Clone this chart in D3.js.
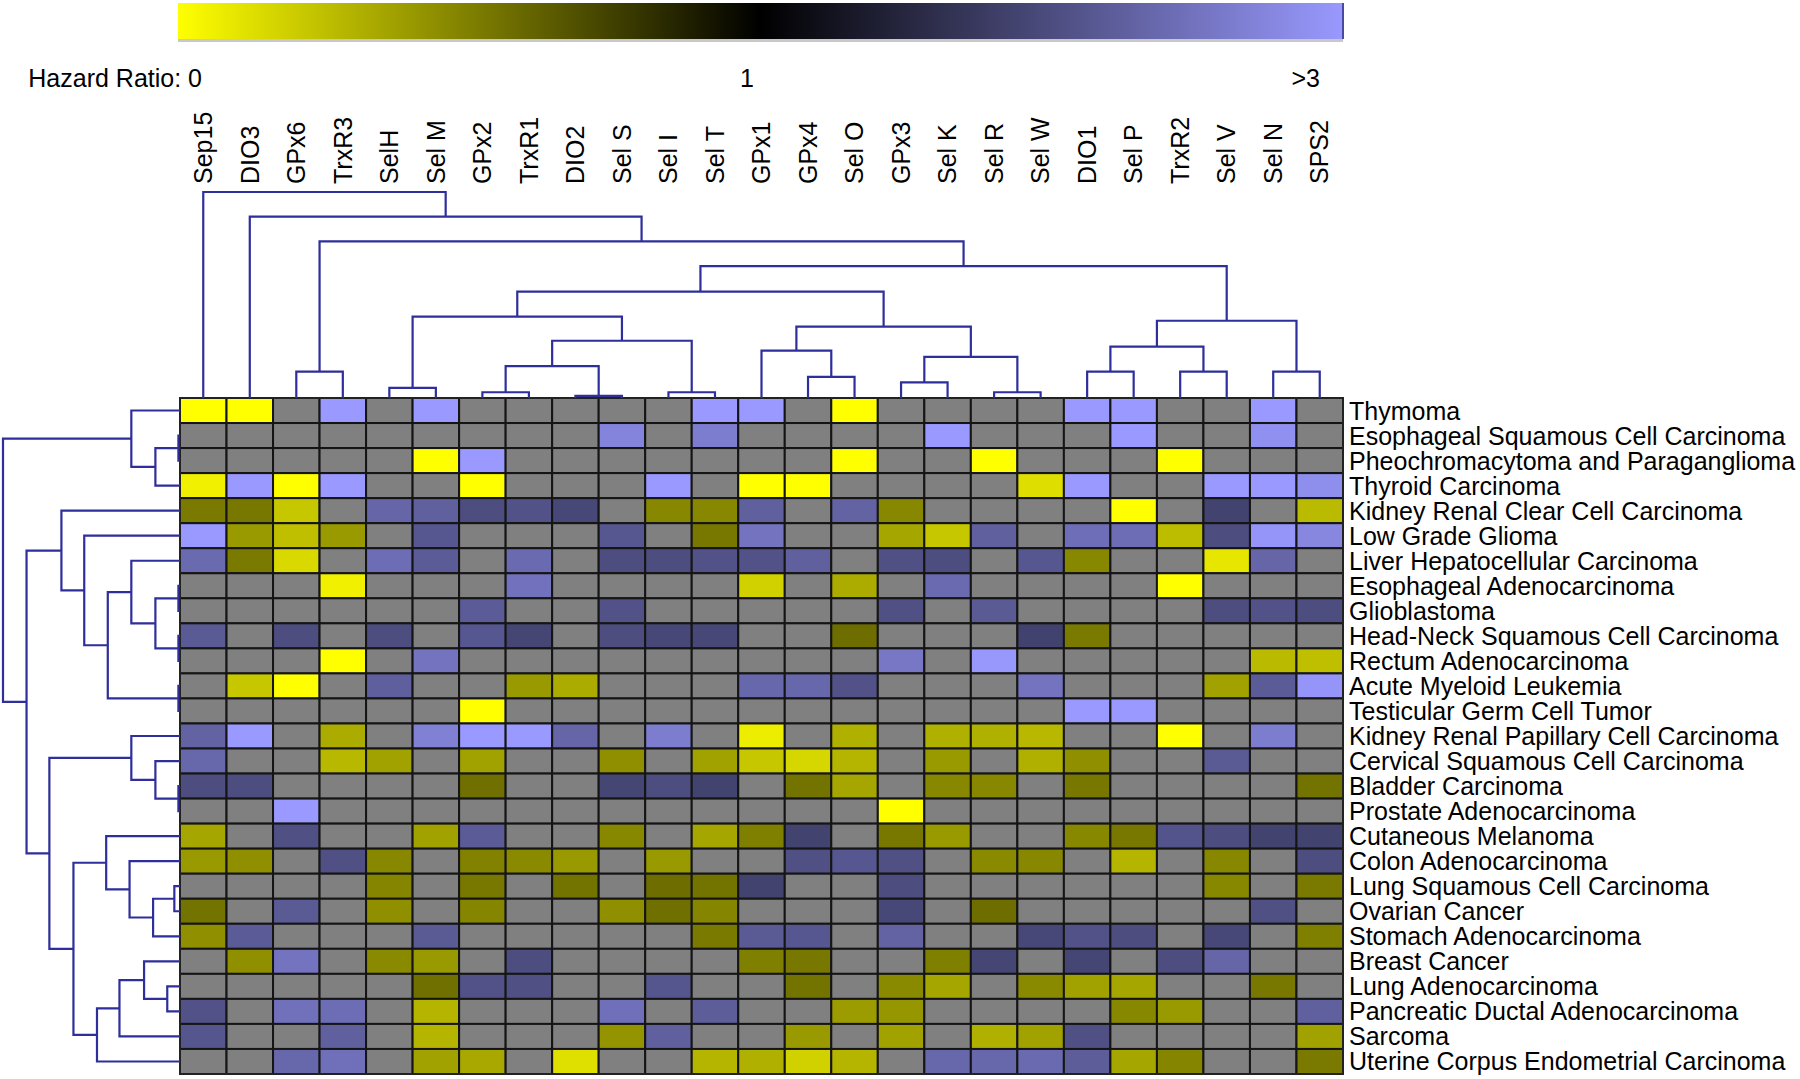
<!DOCTYPE html>
<html>
<head>
<meta charset="utf-8">
<script src="https://cdn.jsdelivr.net/npm/d3@7"></script>
<style>
  body { margin: 0; background: #fff; }
  text { font-family: "Liberation Sans", Arial, sans-serif; fill: #000; }
</style>
</head>
<body>
<svg id="chart"></svg>
<script>
let width = 1800;
let height = 1079;

let genes = ['Sep15', 'DIO3', 'GPx6', 'TrxR3', 'SelH', 'Sel M', 'GPx2', 'TrxR1', 'DIO2',
  'Sel S', 'Sel I', 'Sel T', 'GPx1', 'GPx4', 'Sel O', 'GPx3', 'Sel K', 'Sel R', 'Sel W',
  'DIO1', 'Sel P', 'TrxR2', 'Sel V', 'Sel N', 'SPS2'];

let cancers = ['Thymoma', 'Esophageal Squamous Cell Carcinoma', 'Pheochromacytoma and Paraganglioma',
  'Thyroid Carcinoma', 'Kidney Renal Clear Cell Carcinoma', 'Low Grade Glioma',
  'Liver Hepatocellular Carcinoma', 'Esophageal Adenocarcinoma', 'Glioblastoma',
  'Head-Neck Squamous Cell Carcinoma', 'Rectum Adenocarcinoma', 'Acute Myeloid Leukemia',
  'Testicular Germ Cell Tumor', 'Kidney Renal Papillary Cell Carcinoma',
  'Cervical Squamous Cell Carcinoma', 'Bladder Carcinoma', 'Prostate Adenocarcinoma',
  'Cutaneous Melanoma', 'Colon Adenocarcinoma', 'Lung Squamous Cell Carcinoma',
  'Ovarian Cancer', 'Stomach Adenocarcinoma', 'Breast Cancer', 'Lung Adenocarcinoma',
  'Pancreatic Ductal Adenocarcinoma', 'Sarcoma', 'Uterine Corpus Endometrial Carcinoma'];

// hazard ratio per cancer (row) and gene (column); null = not significant (grey)
const _ = null;
let hazard = [
  [0, 0, _, 3, _, 3, _, _, _, _, _, 3, 3, _, 0, _, _, _, _, 3, 3, _, _, 3, _],
  [_, _, _, _, _, _, _, _, _, 2.73, _, 2.63, _, _, _, _, 3, _, _, _, 3, _, _, 2.88, _],
  [_, _, _, _, _, 0, 3, _, _, _, _, _, _, _, 0, _, _, 0, _, _, _, 0, _, _, _],
  [0.06, 3, 0, 3, _, _, 0, _, _, _, 3, _, 0, 0, _, _, _, _, 0.13, 3, _, _, 3, 3, 2.85],
  [0.52, 0.53, 0.22, _, 2.32, 2.25, 2.0, 2.07, 1.94, _, 0.47, 0.47, 2.25, _, 2.29, 0.47, _, _, _, _, 0, _, 1.88, _, 0.27],
  [3, 0.4, 0.25, 0.4, _, 2.13, _, _, _, 2.13, _, 0.53, 2.5, _, _, 0.35, 0.22, 2.25, _, 2.44, 2.42, 0.26, 2.0, 2.95, 2.76],
  [2.38, 0.52, 0.15, _, 2.42, 2.19, _, 2.38, _, 2.0, 2.0, 2.07, 2.07, 2.25, _, 2.04, 2.0, _, 2.13, 0.47, _, _, 0.1, 2.32, _],
  [_, _, _, 0.06, _, _, _, 2.48, _, _, _, _, 0.18, _, 0.33, _, 2.38, _, _, _, _, 0, _, _, _],
  [_, _, _, _, _, _, 2.19, _, _, 2.07, _, _, _, _, _, 2.04, _, 2.17, _, _, _, _, 2.0, 2.07, 2.0],
  [2.17, _, 2.0, _, 2.0, _, 2.13, 1.92, _, 2.0, 1.94, 1.94, _, _, 0.57, _, _, _, 1.86, 0.52, _, _, _, _, _],
  [_, _, _, 0, _, 2.5, _, _, _, _, _, _, _, _, _, 2.55, _, 2.98, _, _, _, _, _, 0.27, 0.25],
  [_, 0.22, 0, _, 2.24, _, _, 0.4, 0.33, _, _, _, 2.35, 2.35, 2.07, _, _, _, 2.5, _, _, _, 0.37, 2.19, 2.95],
  [_, _, _, _, _, _, 0, _, _, _, _, _, _, _, _, _, _, _, _, 3, 3, _, _, _, _],
  [2.29, 3, _, 0.33, _, 2.67, 3, 3, 2.32, _, 2.63, _, 0.07, _, 0.31, _, 0.31, 0.31, 0.28, _, _, 0, _, 2.63, _],
  [2.35, _, _, 0.28, 0.37, _, 0.37, _, _, 0.44, _, 0.37, 0.22, 0.16, 0.29, _, 0.4, _, 0.31, 0.44, _, _, 2.17, _, _],
  [2.0, 2.0, _, _, _, _, 0.56, _, _, 1.92, 2.0, 1.88, _, 0.55, 0.35, _, 0.47, 0.47, _, 0.53, _, _, _, _, 0.55],
  [_, _, 3, _, _, _, _, _, _, _, _, _, _, _, _, 0, _, _, _, _, _, _, _, _, _],
  [0.35, _, 2.04, _, _, 0.37, 2.19, _, _, 0.47, _, 0.35, 0.5, 1.88, _, 0.53, 0.4, _, _, 0.47, 0.53, 2.1, 2.0, 1.88, 1.88],
  [0.4, 0.44, _, 2.04, 0.47, _, 0.49, 0.46, 0.4, _, 0.4, _, _, 2.04, 2.13, 2.04, _, 0.46, 0.47, _, 0.29, _, 0.47, _, 2.0],
  [_, _, _, _, 0.48, _, 0.53, _, 0.55, _, 0.57, 0.55, 1.88, _, _, 2.0, _, _, _, _, _, _, 0.47, _, 0.52],
  [0.55, _, 2.17, _, 0.44, _, 0.48, _, _, 0.44, 0.56, 0.48, _, _, _, 1.94, _, 0.57, _, _, _, _, _, 2.04, _],
  [0.44, 2.19, _, _, _, 2.17, _, _, _, _, _, 0.52, 2.17, 2.13, _, 2.29, _, _, 1.94, 2.07, 2.0, _, 1.94, _, 0.5],
  [_, 0.44, 2.5, _, 0.46, 0.4, _, 2.0, _, _, _, _, 0.5, 0.53, _, _, 0.5, 1.92, _, 1.92, _, 2.0, 2.32, _, _],
  [_, _, _, _, _, 0.56, 2.07, 2.04, _, _, 2.12, _, _, 0.55, _, 0.46, 0.35, _, 0.46, 0.37, 0.35, _, _, 0.53, _],
  [2.07, _, 2.47, 2.42, _, 0.29, _, _, _, 2.46, _, 2.21, _, _, 0.39, 0.41, _, _, _, _, 0.47, 0.4, _, _, 2.25],
  [2.12, _, _, 2.25, _, 0.29, _, _, _, 0.42, 2.25, _, _, 0.4, _, 0.37, _, 0.31, 0.37, 2.04, _, _, _, _, 0.37],
  [_, _, 2.35, 2.46, _, 0.37, 0.34, _, 0.12, _, _, 0.29, 0.31, 0.18, 0.29, _, 2.35, 2.35, 2.38, 2.21, 0.35, 0.48, _, _, 0.52]
];

// clustering trees: [merge distance, left, right], leaves are indices
let geneTree = [1.0, 0, [0.88, 1, [0.76, [0.128, 2, 3],
  [0.64,
    [0.516,
      [0.395, [0.049, 4, 5], [0.278, [0.155, [0.028, 6, 7], [0.01, 8, 9]], [0.028, 10, 11]]],
      [0.346, [0.23, 12, [0.103, 13, 14]], [0.2, [0.076, 15, 16], [0.028, 17, 18]]]],
    [0.375, [0.249, [0.128, 19, 20], [0.128, 21, 22]], [0.128, 23, 24]]]]]];

let cancerTree = [1.0,
  [0.275, 0, [0.139, [0.009, 1, 2], 3]],
  [0.867,
    [0.67, 4, [0.541, 5, [0.408, [0.275, 6, [0.139, [0.009, 7, 8], [0.009, 9, 10]]], [0.009, 11, 12]]]],
    [0.738,
      [0.275, 13, [0.139, 14, [0.009, 15, 16]]],
      [0.602,
        [0.417, 17, [0.285, 18, [0.152, [0.032, 19, 20], 21]]],
        [0.469, [0.342, [0.203, 22, [0.072, 23, 24]], 25], 26]]]]];

let legendLabels = ['Hazard Ratio: 0', '1', '>3'];
let legendValues = [0, 1, 3];

let gridLeft = 180, gridRight = 1343, gridTop = 398, gridBottom = 1074;
let treeColor = '#2e2e9c';

let svg = d3.select('#chart')
  .attr('width', width)
  .attr('height', height);

svg.append('rect').attr('width', width).attr('height', height).attr('fill', '#fff');

let xScale = d3.scaleBand().domain(genes).range([gridLeft, gridRight]);
let yScale = d3.scaleBand().domain(cancers).range([gridTop, gridBottom]);

let colorScale = d3
  .scaleLinear()
  .domain([0, 1, 3])
  .range(['#ffff00', '#000000', '#9999ff'])
  .clamp(true);

// colour bar
let barScale = d3.scaleLinear().domain([0, 1, 3]).range([178, 760, 1343]);
let grad = svg.append('defs').append('linearGradient').attr('id', 'hrGrad');
grad.selectAll('stop')
  .data(legendValues)
  .enter()
  .append('stop')
  .attr('offset', d => (barScale(d) - barScale(0)) / (barScale(3) - barScale(0)))
  .attr('stop-color', d => colorScale(d));

svg.append('rect')
  .attr('x', barScale(0)).attr('y', 39)
  .attr('width', barScale(3) - barScale(0)).attr('height', 3)
  .attr('fill', '#c8c8c8');
svg.append('rect')
  .attr('x', barScale(0)).attr('y', 3)
  .attr('width', barScale(3) - barScale(0)).attr('height', 36)
  .attr('fill', 'url(#hrGrad)');
svg.append('line')
  .attr('x1', barScale(3)).attr('x2', barScale(3))
  .attr('y1', 3).attr('y2', 39)
  .attr('stroke', '#4a4aa0').attr('stroke-width', 2);

let labelShift = [24, -13, -23];
let labelAnchor = ['end', 'middle', 'end'];
svg.selectAll('.legend-label')
  .data(legendLabels)
  .enter()
  .append('text')
  .attr('class', 'legend-label')
  .attr('x', (d, i) => barScale(legendValues[i]) + labelShift[i])
  .attr('y', 87)
  .attr('text-anchor', (d, i) => labelAnchor[i])
  .style('font-size', '25px')
  .text(d => d);

// column labels
svg.selectAll('.gene-label')
  .data(genes)
  .enter()
  .append('text')
  .attr('class', 'gene-label')
  .attr('transform', d => `translate(${xScale(d) + xScale.bandwidth() / 2}, 184) rotate(-90)`)
  .attr('dy', '0.35em')
  .style('font-size', '25px')
  .text(d => d);

// row labels
svg.selectAll('.cancer-label')
  .data(cancers)
  .enter()
  .append('text')
  .attr('class', 'cancer-label')
  .attr('x', gridRight + 6)
  .attr('y', d => yScale(d) + yScale.bandwidth() / 2)
  .attr('dy', '0.36em')
  .style('font-size', '25px')
  .text(d => d);

// heatmap cells
let cells = [];
hazard.forEach((row, r) => row.forEach((v, c) => cells.push({ r, c, v })));

svg.append('g')
  .selectAll('rect')
  .data(cells)
  .enter()
  .append('rect')
  .attr('x', d => xScale(genes[d.c]))
  .attr('y', d => yScale(cancers[d.r]))
  .attr('width', xScale.bandwidth())
  .attr('height', yScale.bandwidth())
  .attr('fill', d => d.v === null ? '#808080' : colorScale(d.v))
  .attr('stroke', '#151515')
  .attr('stroke-width', 2);

svg.append('rect')
  .attr('x', gridLeft).attr('y', gridTop)
  .attr('width', gridRight - gridLeft).attr('height', gridBottom - gridTop)
  .attr('fill', 'none').attr('stroke', '#222').attr('stroke-width', 2);

// dendrograms
function treeLinks(tree, leafPos) {
  let links = [];
  function walk(node) {
    if (typeof node === 'number') return { p: leafPos(node), h: 0 };
    let a = walk(node[1]);
    let b = walk(node[2]);
    links.push({ a, b, h: node[0] });
    return { p: (a.p + b.p) / 2, h: node[0] };
  }
  walk(tree);
  return links;
}

let geneHeight = d3.scaleLinear().domain([0, 1]).range([gridTop, 192]);
let geneLinks = treeLinks(geneTree, i => xScale(genes[i]) + xScale.bandwidth() / 2);
svg.append('g')
  .selectAll('path')
  .data(geneLinks)
  .enter()
  .append('path')
  .attr('d', d => `M${d.a.p},${geneHeight(d.a.h)}V${geneHeight(d.h)}H${d.b.p}V${geneHeight(d.b.h)}`)
  .attr('fill', 'none')
  .attr('stroke', treeColor)
  .attr('stroke-width', 2.2);

let cancerHeight = d3.scaleLinear().domain([0, 1]).range([gridLeft, 3]);
let cancerLinks = treeLinks(cancerTree, i => yScale(cancers[i]) + yScale.bandwidth() / 2);
svg.append('g')
  .selectAll('path')
  .data(cancerLinks)
  .enter()
  .append('path')
  .attr('d', d => `M${cancerHeight(d.a.h)},${d.a.p}H${cancerHeight(d.h)}V${d.b.p}H${cancerHeight(d.b.h)}`)
  .attr('fill', 'none')
  .attr('stroke', treeColor)
  .attr('stroke-width', 2.2);
</script>
</body>
</html>
